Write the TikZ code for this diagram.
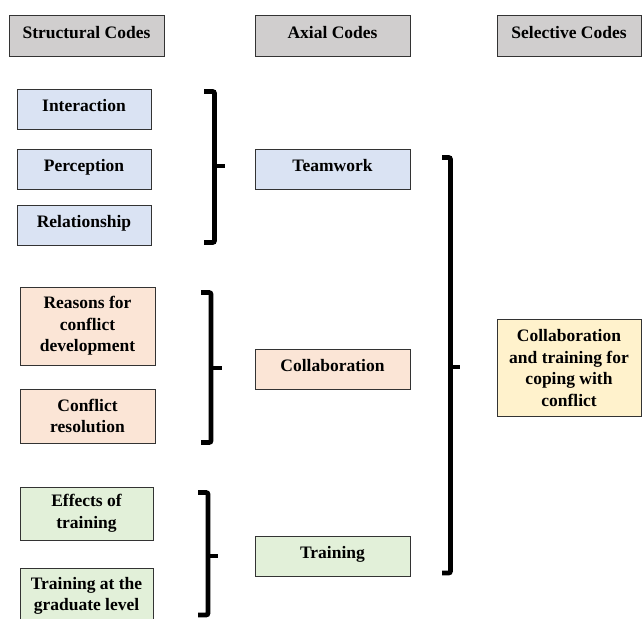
\documentclass[tikz,border=0pt]{standalone}
\usepackage{fontspec}
\setmainfont{Liberation Serif}
\definecolor{hgray}{HTML}{D0CECE}
\definecolor{cblue}{HTML}{DAE3F3}
\definecolor{corange}{HTML}{FBE5D6}
\definecolor{cgreen}{HTML}{E2F0D9}
\definecolor{cyellow}{HTML}{FFF2CC}
\begin{document}
\begin{tikzpicture}[x=1pt,y=-1pt,
  box/.style={draw=black!80, line width=0.9pt, inner sep=0pt, align=center,
    font=\bfseries\fontsize{17.5}{21.5}\selectfont},
  one/.style={text height=12pt, text depth=6.4pt},
  hdr/.style={box, one, fill=hgray, minimum height=41pt},
  bluebox/.style={box, fill=cblue},
  orangebox/.style={box, fill=corange},
  greenbox/.style={box, fill=cgreen},
  yellowbox/.style={box, fill=cyellow},
  brk/.style={line width=4.8pt, rounded corners=2pt},
  tick/.style={line width=4.8pt}
]
\useasboundingbox (0,0) rectangle (642,618);
\clip (0,0) rectangle (642,618);

% headers
\node[hdr, minimum width=155pt] (sc) at (86.5,35.5) {Structural Codes};
\node[hdr, minimum width=155pt] (ac) at (332.5,35.5) {Axial Codes};
\node[hdr, minimum width=144pt] (sh) at (569,35.5) {Selective Codes};

% blue group
\node[bluebox, one, minimum width=134pt, minimum height=40pt] (inter) at (84,109) {Interaction};
\node[bluebox, one, minimum width=134pt, minimum height=40pt] (perc) at (84,169) {Perception};
\node[bluebox, one, minimum width=134pt, minimum height=40pt] (rel) at (84,225) {Relationship};
\node[bluebox, one, minimum width=155pt, minimum height=40pt] (team) at (332.5,169) {Teamwork};

% orange group
\node[orangebox, minimum width=135pt, minimum height=78pt] (reas) at (87.5,326) {Reasons for\\conflict\\development};
\node[orangebox, minimum width=135pt, minimum height=54pt] (cres) at (87.5,416) {Conflict\\resolution};
\node[orangebox, one, minimum width=155pt, minimum height=40pt] (collab) at (332.5,369) {Collaboration};

% green group
\node[greenbox, minimum width=133pt, minimum height=53pt] (eff) at (86.5,513.5) {Effects of\\training};
\node[greenbox, minimum width=133pt, minimum height=56pt] (grad) at (86.5,596) {Training at the\\graduate level};
\node[greenbox, one, minimum width=155pt, minimum height=40pt] (train) at (332.5,556) {Training};

% selective
\node[yellowbox, minimum width=144pt, minimum height=97pt] (sel) at (569,368) {Collaboration\\and training for\\coping with\\conflict};

% brackets
\coordinate (b1a) at (204,91.5);  \coordinate (b1b) at (214.5,91.5);
\coordinate (b1c) at (214.5,242.5); \coordinate (b1d) at (204,242.5);
\coordinate (b1m) at (214.5,166); \coordinate (b1t) at (225,166);
\draw[brk] (b1a) -- (b1b) -- (b1c) -- (b1d);
\draw[tick] (b1m) -- (b1t);

\coordinate (b2a) at (201,292.5);  \coordinate (b2b) at (211,292.5);
\coordinate (b2c) at (211,442.5); \coordinate (b2d) at (201,442.5);
\coordinate (b2m) at (211,368); \coordinate (b2t) at (222,368);
\draw[brk] (b2a) -- (b2b) -- (b2c) -- (b2d);
\draw[tick] (b2m) -- (b2t);

\coordinate (b3a) at (198,492.5);  \coordinate (b3b) at (208,492.5);
\coordinate (b3c) at (208,615); \coordinate (b3d) at (198,615);
\coordinate (b3m) at (208,556); \coordinate (b3t) at (218,556);
\draw[brk] (b3a) -- (b3b) -- (b3c) -- (b3d);
\draw[tick] (b3m) -- (b3t);

\coordinate (b4a) at (442,157.5);  \coordinate (b4b) at (450.5,157.5);
\coordinate (b4c) at (450.5,573); \coordinate (b4d) at (442,573);
\coordinate (b4m) at (450.5,367); \coordinate (b4t) at (460,367);
\draw[brk] (b4a) -- (b4b) -- (b4c) -- (b4d);
\draw[tick] (b4m) -- (b4t);
\end{tikzpicture}
\end{document}
